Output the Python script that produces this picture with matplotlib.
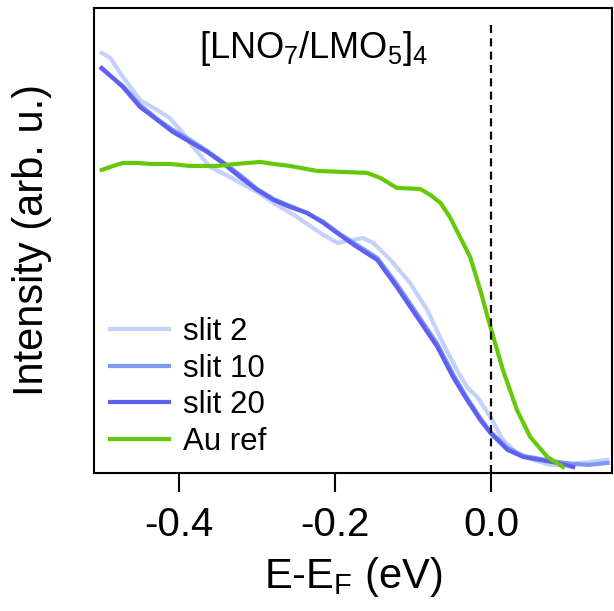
import matplotlib
matplotlib.use("Agg")
import matplotlib.pyplot as plt

plt.rcParams['font.family'] = ['Liberation Sans', 'DejaVu Sans']
plt.rcParams['mathtext.fontset'] = 'custom'
plt.rcParams['mathtext.rm'] = 'Liberation Sans'
plt.rcParams['mathtext.it'] = 'Liberation Sans'

# energy (eV) and intensity (arb. u.)
slit2_x = [-0.499, -0.488, -0.472, -0.450, -0.428, -0.412, -0.395, -0.382, -0.360, -0.335,
           -0.300, -0.279, -0.249, -0.215, -0.197, -0.177, -0.165, -0.151, -0.129, -0.104,
           -0.082, -0.062, -0.044, -0.031, -0.018, -0.001, 0.015, 0.033, 0.054, 0.076,
           0.092, 0.114, 0.127, 0.149]
slit2_y = [420, 415, 396, 373, 363, 355, 340, 326, 306, 296,
           281, 270, 256, 238, 230, 233, 235, 230, 213, 190,
           163, 130, 103, 86, 76, 56, 33, 20, 13, 8,
           8, 10, 11, 13]

slit10_x = [-0.499, -0.472, -0.450, -0.428, -0.408, -0.386, -0.364, -0.344, -0.322, -0.300,
            -0.279, -0.258, -0.236, -0.215, -0.194, -0.172, -0.146, -0.121, -0.095, -0.069,
            -0.049, -0.031, -0.014, -0.001, 0.021, 0.041, 0.063, 0.085, 0.105, 0.125, 0.149]
slit10_y = [404, 387, 368, 354, 343, 333, 322, 311, 298, 284,
            274, 267, 260, 251, 239, 228, 215, 189, 159, 129,
            99, 75, 55, 41, 25, 17, 14, 11, 9, 8, 10]

slit20_x = [-0.499, -0.472, -0.450, -0.428, -0.408, -0.386, -0.364, -0.344, -0.322, -0.300,
            -0.279, -0.258, -0.236, -0.215, -0.194, -0.172, -0.146, -0.121, -0.095, -0.069,
            -0.049, -0.031, -0.014, -0.001, 0.021, 0.041, 0.063, 0.085, 0.105]
slit20_y = [405, 386, 366, 353, 341, 331, 321, 310, 296, 283,
            273, 266, 260, 250, 238, 226, 213, 186, 156, 126,
            96, 73, 53, 40, 23, 16, 13, 10, 6]

au_x = [-0.499, -0.488, -0.472, -0.454, -0.437, -0.412, -0.386, -0.351, -0.326, -0.296,
        -0.279, -0.258, -0.223, -0.190, -0.159, -0.142, -0.121, -0.091, -0.078, -0.065,
        -0.053, -0.040, -0.027, -0.014, -0.001, 0.015, 0.033, 0.050, 0.072, 0.092]
au_y = [303, 306, 310, 310, 309, 309, 307, 307, 309, 311,
        309, 307, 302, 301, 300, 295, 285, 284, 278, 270,
        256, 236, 216, 183, 146, 103, 63, 36, 16, 6]

xticks = [-0.4, -0.2, 0.0]

fig = plt.figure(figsize=(6.14, 6.11), dpi=100)
ax = fig.add_axes([0.153, 0.226, 0.844, 0.761])

ax.plot(slit2_x, slit2_y, color='#c3d2fa', lw=3, label='slit 2')
ax.plot(slit10_x, slit10_y, color='#7c9af2', lw=3, label='slit 10')
ax.plot(slit20_x, slit20_y, color='#5f5ff2', lw=3, label='slit 20')
ax.plot(au_x, au_y, color='#66c80a', lw=3, label='Au ref')
ax.vlines(0, 0, 453, colors='black', linestyles=(0, (3.6, 2.4)), lw=1.6)

ax.set_xlim(-0.509, 0.155)
ax.set_ylim(0, 465)
ax.set_xticks(xticks)
ax.set_xticklabels(['%.1f' % t for t in xticks])
ax.set_yticks([])
ax.tick_params(axis='x', direction='out', length=14, width=1.5, labelsize=29, pad=10)
for s in ax.spines.values():
    s.set_linewidth(1.5)

ax.set_xlabel(r'E-E$_\mathregular{F}$ (eV)', fontsize=30, labelpad=8)
ax.set_ylabel('Intensity (arb. u.)', fontsize=30, labelpad=30)

ax.text(0.423, 0.912, r'[LNO$_\mathregular{7}$/LMO$_\mathregular{5}$]$_\mathregular{4}$',
        transform=ax.transAxes, ha='center', va='center', fontsize=26)

ax.legend(loc='lower left', bbox_to_anchor=(0.0, 0.0), frameon=False, fontsize=22.5,
          handlelength=1.9, handletextpad=0.45, labelspacing=0.22, borderaxespad=0.2,
          borderpad=0.3)

fig.savefig('out.png', dpi=100)
